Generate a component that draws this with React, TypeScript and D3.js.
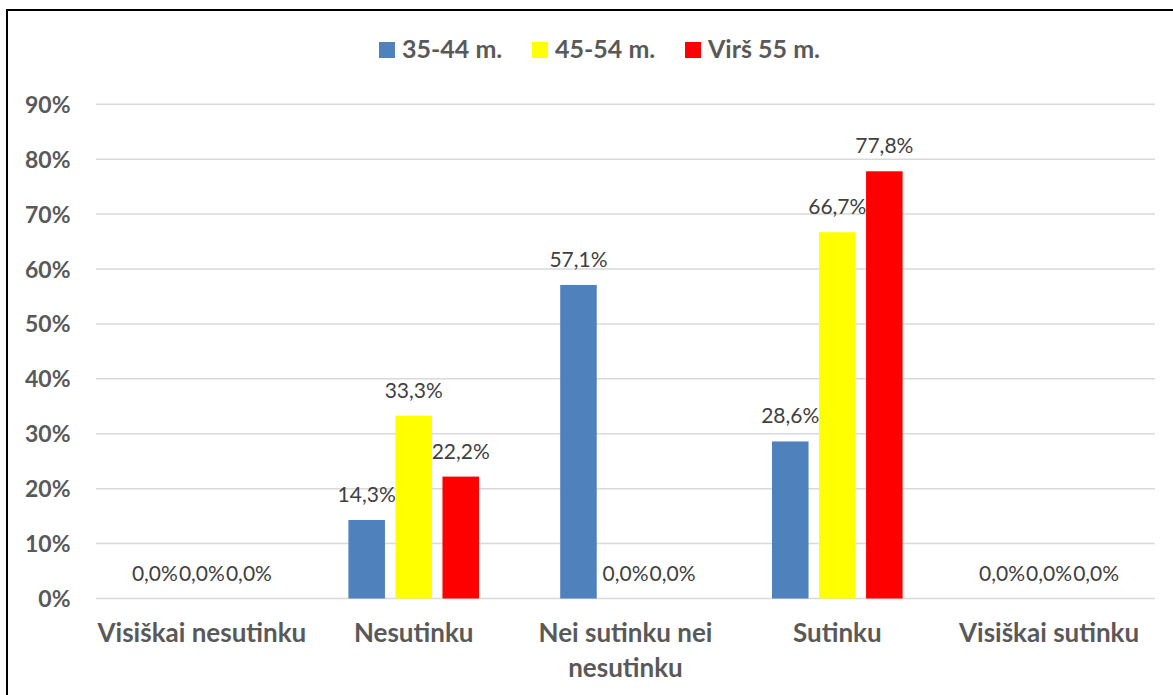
import { useRef, useEffect } from "react"
import * as d3 from "d3"

const categories = [
  ["Visiškai nesutinku"],
  ["Nesutinku"],
  ["Nei sutinku nei", "nesutinku"],
  ["Sutinku"],
  ["Visiškai sutinku"],
]
const seriesNames = ["35-44 m.", "45-54 m.", "Virš 55 m."]
const seriesColors = ["#4f81bd", "#ffff00", "#ff0000"]
const age3544 = [0, 14.3, 57.1, 28.6, 0]
const age4554 = [0, 33.3, 0, 66.7, 0]
const ageOver55 = [0, 22.2, 0, 77.8, 0]
const yTicks = [0, 10, 20, 30, 40, 50, 60, 70, 80, 90]

const FONT = "Lato, 'Open Sans', sans-serif"

export default function App() {
  const svgRef = useRef<SVGSVGElement>(null)

  useEffect(() => {
    const svg = d3.select(svgRef.current)
    svg.selectAll("*").remove()

    // chart frame
    svg
      .append("rect")
      .attr("x", 7)
      .attr("y", 10)
      .attr("width", 1200)
      .attr("height", 720)
      .attr("fill", "#fff")
      .attr("stroke", "#000")
      .attr("stroke-width", 2)

    const left = 96
    const right = 1155
    const y = d3.scaleLinear().domain([0, 90]).range([598.5, 104.3])

    const x0 = d3
      .scaleBand<number>()
      .domain(categories.map((_, i) => i))
      .range([left, right])
      .padding(0)

    const outer = 40.6
    const x1 = d3
      .scaleBand<number>()
      .domain([0, 1, 2])
      .range([outer, x0.bandwidth() - outer])
      .paddingInner(0.223)

    // gridlines
    svg
      .append("g")
      .selectAll("line")
      .data(yTicks)
      .enter()
      .append("line")
      .attr("x1", left)
      .attr("x2", right)
      .attr("y1", (d) => y(d))
      .attr("y2", (d) => y(d))
      .attr("stroke", "#d9d9d9")
      .attr("stroke-width", 1.5)

    // y tick labels
    svg
      .append("g")
      .selectAll("text")
      .data(yTicks)
      .enter()
      .append("text")
      .attr("x", 70.5)
      .attr("y", (d) => y(d) + 8.5)
      .attr("text-anchor", "end")
      .attr("font-family", FONT)
      .attr("font-weight", "bold")
      .attr("font-size", 23)
      .attr("fill", "#595959")
      .text((d) => `${d}%`)

    // category labels
    categories.forEach((lines, i) => {
      const t = svg
        .append("text")
        .attr("text-anchor", "middle")
        .attr("font-family", FONT)
        .attr("font-weight", "bold")
        .attr("font-size", 26)
        .attr("fill", "#595959")
      lines.forEach((line, j) => {
        t.append("tspan")
          .attr("x", x0(i)! + x0.bandwidth() / 2)
          .attr("y", 642 + j * 35)
          .text(line)
      })
    })

    // bars + data labels
    const series = [age3544, age4554, ageOver55]
    series.forEach((values, s) => {
      const g = svg.append("g")
      const pts = values.map((v, i) => ({ v, i }))

      g.selectAll("rect")
        .data(pts.filter((d) => d.v > 0))
        .enter()
        .append("rect")
        .attr("x", (d) => x0(d.i)! + x1(s)!)
        .attr("y", (d) => y(d.v))
        .attr("width", x1.bandwidth())
        .attr("height", (d) => y(0) - y(d.v))
        .attr("fill", seriesColors[s])

      g.selectAll("text")
        .data(pts)
        .enter()
        .append("text")
        .attr("x", (d) => x0(d.i)! + x1(s)! + x1.bandwidth() / 2)
        .attr("y", (d) => y(d.v) - 18)
        .attr("text-anchor", "middle")
        .attr("font-family", FONT)
        .attr("font-size", 21)
        .attr("fill", "#404040")
        .text((d) => `${d.v.toFixed(1).replace(".", ",")}%`)
    })

    // legend
    const legendX = [379, 532, 685]
    seriesNames.forEach((name, s) => {
      svg
        .append("rect")
        .attr("x", legendX[s])
        .attr("y", 42)
        .attr("width", 16)
        .attr("height", 16)
        .attr("fill", seriesColors[s])
      svg
        .append("text")
        .attr("x", legendX[s] + 23)
        .attr("y", 57.5)
        .attr("font-family", FONT)
        .attr("font-weight", "bold")
        .attr("font-size", 25)
        .attr("fill", "#595959")
        .text(name)
    })
  }, [])

  return (
    <svg
      ref={svgRef}
      width={1173}
      height={695}
      style={{ position: "absolute", left: 0, top: 0 }}
    ></svg>
  )
}
